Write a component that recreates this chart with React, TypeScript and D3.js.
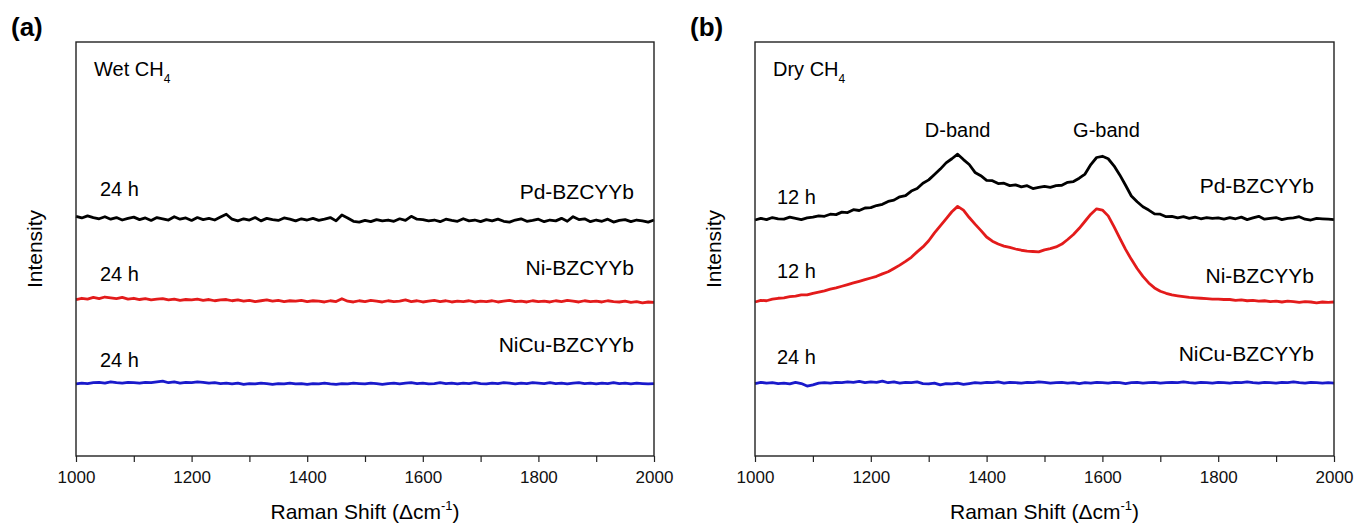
import { useEffect, useRef } from 'react';
import * as d3 from 'd3';

// Raman shift grid (cm-1), one reading every 10 cm-1
const ramanShift = d3.range(1000, 2001, 10);

// (a) wet CH4, 24 h
const wetPd = [
  57.9, 57.5, 58.0, 57.6, 57.3, 57.8, 57.2, 57.6, 57.0, 57.4,
  57.7, 57.1, 57.5, 56.9, 57.6, 57.3, 57.0, 57.8, 57.2, 57.5,
  56.9, 57.6, 57.1, 57.4, 57.0, 57.7, 58.4, 57.2, 56.8, 57.3,
  57.0, 57.6, 56.8, 57.4, 57.1, 56.9, 57.5, 57.2, 56.8, 57.3,
  57.0, 57.4, 56.9, 57.2, 57.6, 56.8, 58.2, 57.5, 56.7, 56.5,
  56.9, 56.6, 57.1, 56.8, 57.0, 56.7, 57.3, 56.9, 57.9, 57.2,
  57.1, 56.8, 57.0, 56.6, 57.2, 56.9, 56.7, 57.3, 56.8, 57.0,
  56.6, 57.1, 56.8, 57.2, 56.7, 56.5, 57.0, 57.3, 56.7, 56.9,
  57.2, 56.6, 57.0, 56.8, 57.4, 56.7, 57.8, 57.1, 57.3, 56.6,
  57.0, 56.7, 57.2, 56.5, 56.9, 57.1, 56.6, 57.0, 56.8, 56.5,
  57.0,
];
const wetNi = [
  37.8, 38.1, 37.9, 38.3, 38.0, 38.4, 38.2, 38.0, 38.3, 37.9,
  38.1, 37.8, 38.0, 37.7, 37.9, 38.0, 37.7, 37.9, 37.6, 37.8,
  37.7, 37.9, 37.6, 37.8, 37.5, 37.7, 37.8, 37.5, 37.7, 37.4,
  37.6, 37.3, 37.5, 37.7, 37.4, 37.6, 37.3, 37.5, 37.4, 37.6,
  37.3, 37.5, 37.4, 37.2, 37.5, 37.3, 38.0, 37.4, 37.2, 37.5,
  37.3, 37.6, 37.4, 37.2, 37.5, 37.3, 37.4, 37.7, 37.3, 37.5,
  37.2, 37.4, 37.6, 37.3, 37.5, 37.2, 37.4, 37.3, 37.5, 37.2,
  37.4, 37.3, 37.5, 37.2, 37.4, 37.6, 37.3, 37.4, 37.2, 37.5,
  37.3, 37.4, 37.2, 37.5, 37.3, 37.6, 37.4, 37.2, 37.5, 37.3,
  37.4, 37.2, 37.5, 37.3, 37.2, 37.4, 37.1, 37.3, 37.0, 37.2,
  37.1,
];
const wetNiCu = [
  17.4, 17.6, 17.5, 17.7, 17.8, 17.6, 17.9, 17.7, 17.6, 17.8,
  17.7, 17.6, 17.8, 17.7, 17.9, 18.1, 17.7, 17.9, 17.6, 17.8,
  17.7, 17.9, 17.8, 17.6, 17.7, 17.5, 17.6, 17.4, 17.6, 17.3,
  17.5, 17.4, 17.6, 17.5, 17.3, 17.5, 17.4, 17.6, 17.4, 17.5,
  17.3, 17.5, 17.4, 17.6, 17.4, 17.3, 17.5, 17.4, 17.6, 17.5,
  17.4, 17.6, 17.5, 17.3, 17.5, 17.6, 17.4, 17.6, 17.7, 17.5,
  17.6, 17.4, 17.5, 17.7, 17.5, 17.6, 17.4, 17.6, 17.5, 17.7,
  17.5, 17.4, 17.6, 17.5, 17.7, 17.6, 17.4, 17.6, 17.5, 17.7,
  17.6, 17.5, 17.7, 17.5, 17.6, 17.4, 17.6, 17.7, 17.5, 17.6,
  17.4, 17.6, 17.5, 17.7, 17.5, 17.6, 17.4, 17.6, 17.5, 17.4,
  17.5,
];

// (b) dry CH4
const dryPd = [
  57.0, 57.4, 57.1, 57.6, 57.3, 57.2, 57.7, 57.4, 57.1, 57.5,
  57.7, 58.0, 57.9, 58.4, 58.3, 58.9, 58.8, 59.5, 59.3, 59.9,
  60.0, 60.5, 60.8, 61.5, 61.8, 62.6, 62.9, 64.0, 64.6, 65.9,
  66.7, 68.0, 69.3, 70.8, 71.8, 72.9, 71.6, 70.4, 68.5, 67.7,
  66.6, 66.5, 65.8, 65.9, 65.3, 65.5, 65.0, 65.3, 64.6, 64.9,
  65.1, 64.9, 65.3, 65.4, 66.1, 66.3, 67.1, 68.1, 70.4, 72.1,
  72.4, 71.8, 70.1, 67.9, 65.4, 62.8, 61.4, 60.2, 59.4, 58.5,
  58.4, 57.8, 57.9, 57.5, 57.8, 57.4, 57.7, 57.3, 57.6, 57.4,
  57.5, 57.2, 57.6, 57.3, 57.7, 57.1, 57.5, 57.9, 57.2, 57.4,
  57.6, 57.1, 57.4, 57.5, 57.8, 57.2, 57.0, 57.4, 57.3, 57.2,
  57.1,
];
const dryNi = [
  37.2, 37.6, 37.5, 37.9, 38.1, 38.2, 38.5, 38.6, 38.9, 38.9,
  39.3, 39.6, 39.9, 40.3, 40.6, 41.0, 41.4, 41.8, 42.2, 42.6,
  43.0, 43.4, 44.0, 44.5, 45.3, 46.1, 47.0, 48.0, 49.3, 50.5,
  52.0, 53.9, 55.6, 57.3, 59.0, 60.3, 59.4, 57.6, 56.0, 54.5,
  52.9, 51.9, 51.2, 50.7, 50.4, 50.0, 49.7, 49.5, 49.4, 49.3,
  49.8, 50.1, 50.5, 51.2, 52.3, 53.5, 55.0, 56.7, 58.4, 59.7,
  59.4, 58.0, 55.4, 52.6, 49.9, 47.5, 45.3, 43.4, 41.8, 40.6,
  39.8, 39.3, 38.9, 38.7, 38.5, 38.3, 38.2, 38.1, 38.0, 37.9,
  37.9, 37.8, 37.8, 37.6, 37.7, 37.5, 37.6, 37.4, 37.5, 37.3,
  37.4, 37.2, 37.4, 37.3, 37.1, 37.3, 37.2, 37.0, 37.2, 37.1,
  37.2,
];
const dryNiCu = [
  17.5, 17.8, 17.6, 17.7, 17.5, 17.6, 17.4, 17.8, 17.5, 16.9,
  17.2, 17.6, 17.7, 17.6, 17.8, 17.7, 17.9, 17.8, 18.0, 17.7,
  17.9, 17.8, 18.1, 17.7, 17.9, 17.6, 17.8, 17.7, 17.9, 17.5,
  17.4, 17.6, 17.2, 17.5, 17.4, 17.6, 17.3, 17.5, 17.7, 17.6,
  17.8, 17.7, 17.9, 17.6, 17.8, 17.7, 17.6, 17.8, 17.7, 17.9,
  17.8, 17.6, 17.7, 17.8, 17.6, 17.7, 17.5, 17.7, 17.6, 17.8,
  17.7, 17.6, 17.8, 17.7, 17.5, 17.7, 17.8, 17.6, 17.7, 17.8,
  17.6, 17.7, 17.8, 17.7, 17.9, 17.7, 17.6, 17.8, 17.7, 17.6,
  17.8, 17.7, 17.6, 17.8, 17.7, 17.9, 17.7, 17.6, 17.8, 17.7,
  17.6, 17.8, 17.7, 17.9, 17.7, 17.6, 17.8, 17.7, 17.6, 17.7,
  17.6,
];

const samples = ['Pd-BZCYYb', 'Ni-BZCYYb', 'NiCu-BZCYYb'];
const wetTimes = ['24 h', '24 h', '24 h'];
const dryTimes = ['12 h', '12 h', '24 h'];
const bandNames = ['D-band', 'G-band'];
const bandShifts = [1350, 1607];
const xTickValues = d3.range(1000, 2001, 100);
const colors = ['#000000', '#e31b1b', '#1a1acb'];

const FONT = '"Liberation Sans", Arial, sans-serif';

export default function App() {
  const svgRef = useRef<SVGSVGElement>(null);

  useEffect(() => {
    if (!svgRef.current) return;
    const svg = d3.select(svgRef.current);
    svg.selectAll('*').remove();

    const top = 42;
    const bottom = 456;
    const panels = [
      { letter: '(a)', gas: 'Wet', left: 76, right: 654, series: [wetPd, wetNi, wetNiCu], times: wetTimes,
        timeX: 100, timeOffsets: [-20, -19, -17], nameOffsets: [-21, -27, -32] },
      { letter: '(b)', gas: 'Dry', left: 755, right: 1334, series: [dryPd, dryNi, dryNiCu], times: dryTimes,
        timeX: 777, timeOffsets: [-16, -24, -20], nameOffsets: [-27, -19, -22] },
    ];

    const yScale = d3.scaleLinear().domain([0, 100]).range([bottom, top]);

    panels.forEach((p, pi) => {
      const x = d3.scaleLinear().domain([1000, 2000]).range([p.left, p.right]);
      const g = svg.append('g');

      // panel letter
      g.append('text')
        .attr('x', p.left - 65)
        .attr('y', 36)
        .style('font-family', FONT)
        .style('font-size', '26px')
        .style('font-weight', 'bold')
        .text(p.letter);

      // traces
      const line = d3.line<number>()
        .x((_, i) => x(ramanShift[i]))
        .y(d => yScale(d));
      p.series.forEach((s, si) => {
        g.append('path')
          .datum(s)
          .attr('fill', 'none')
          .attr('stroke', colors[si])
          .attr('stroke-width', 2.8)
          .attr('stroke-linejoin', 'round')
          .attr('d', line);

        g.append('text')
          .attr('x', p.timeX)
          .attr('y', yScale(s[0]) + p.timeOffsets[si])
          .style('font-family', FONT)
          .style('font-size', '20px')
          .text(p.times[si]);

        g.append('text')
          .attr('x', p.right - 20)
          .attr('y', yScale(s[s.length - 1]) + p.nameOffsets[si])
          .attr('text-anchor', 'end')
          .style('font-family', FONT)
          .style('font-size', '21px')
          .text(samples[si]);
      });

      // band labels (dry only)
      if (pi === 1) {
        bandNames.forEach((b, bi) => {
          g.append('text')
            .attr('x', x(bandShifts[bi]))
            .attr('y', 137)
            .attr('text-anchor', 'middle')
            .style('font-family', FONT)
            .style('font-size', '20px')
            .text(b);
        });
      }

      // frame
      g.append('rect')
        .attr('x', p.left)
        .attr('y', top)
        .attr('width', p.right - p.left)
        .attr('height', bottom - top)
        .attr('fill', 'none')
        .attr('stroke', '#222')
        .attr('stroke-width', 1.4);

      // x axis
      const axis = g.append('g')
        .attr('transform', `translate(0,${bottom})`)
        .call(d3.axisBottom(x)
          .tickValues(xTickValues)
          .tickSize(6)
          .tickFormat(d => (Number(d) % 200 === 0 ? String(d) : '')));
      axis.select('.domain').remove();
      axis.selectAll('line').attr('stroke', '#222').attr('stroke-width', 1.2);
      axis.selectAll('text')
        .attr('dy', '1.05em')
        .style('font-family', FONT)
        .style('font-size', '17px')
        .style('fill', '#111');

      // condition label
      const cond = g.append('text')
        .attr('x', p.left + 18)
        .attr('y', 76)
        .style('font-family', FONT)
        .style('font-size', '20px');
      cond.append('tspan').text(`${p.gas} CH`);
      cond.append('tspan').attr('dy', 7).style('font-size', '12px').text('4');

      // x title
      const xt = g.append('text')
        .attr('x', (p.left + p.right) / 2)
        .attr('y', 519)
        .attr('text-anchor', 'middle')
        .style('font-family', FONT)
        .style('font-size', '21px');
      xt.append('tspan').text('Raman Shift (\u0394cm');
      xt.append('tspan').attr('dy', -9).style('font-size', '13px').text('-1');
      xt.append('tspan').attr('dy', 9).text(')');

      // y title
      g.append('text')
        .attr('transform', `translate(${p.left - 34},${(top + bottom) / 2}) rotate(-90)`)
        .attr('text-anchor', 'middle')
        .style('font-family', FONT)
        .style('font-size', '21px')
        .text('Intensity');
    });
  }, []);

  return (
    <div style={{ position: 'absolute', left: 0, top: 0, background: '#fff' }}>
      <svg ref={svgRef} width={1355} height={524} />
    </div>
  );
}
